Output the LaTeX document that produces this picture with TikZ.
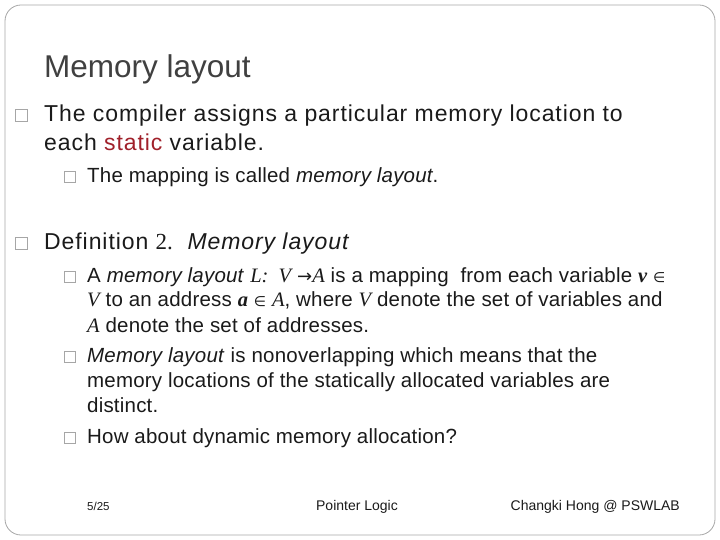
\documentclass[tikz,border=0pt]{standalone}
\usepackage{fontspec}
\setmainfont{Liberation Sans}
\newfontfamily\tms{Liberation Serif}
\newfontfamily\dv{DejaVu Sans}
\definecolor{txt}{HTML}{1A1A1A}
\definecolor{ttl}{HTML}{404040}
\definecolor{dred}{HTML}{A0202A}
\begin{document}
\begin{tikzpicture}[x=1pt,y=-1pt,
  t/.style={anchor=base west,inner sep=0pt,text=txt},
  big/.style={t,font=\fontsize{23}{26}\selectfont\addfontfeature{LetterSpace=4}},
  sm/.style={t,font=\fontsize{20.5}{24}\selectfont\addfontfeature{LetterSpace=1}},
  bxb/.style={draw=gray!70,line width=0.5pt,minimum size=12pt,inner sep=0pt,anchor=south west},
  bxs/.style={draw=gray!70,line width=0.5pt,minimum size=11pt,inner sep=0pt,anchor=south west},
  ft/.style={anchor=base,inner sep=0pt,text=txt,font=\fontsize{14}{16}\selectfont}]
\useasboundingbox (0,0) rectangle (720,540);
\draw[draw=gray!70,line width=0.8pt,rounded corners=16pt] (5,5) rectangle (715,535);
\node[t,text=ttl,font=\fontsize{31.5}{34}\selectfont] (title) at (44,78) {Memory layout};
\node[bxb] (b1) at (15,122) {};
\node[big] (l1) at (44,122) {The compiler assigns a particular memory location to};
\node[big] (l2) at (44,151) {each \textcolor{dred}{static} variable.};
\node[bxs] (s1) at (64,183) {};
\node[sm] (l3) at (87,183) {The mapping is called \textit{memory layout}.};
\node[bxb] (b2) at (15,249) {};
\node[big] (l4) at (44,249) {Definition {\tms 2.}\ \ \textit{Memory layout}};
\node[bxs] (s2) at (64,282) {};
\node[sm] (l5) at (87,282) {A \textit{memory layout} {\tms\itshape L: \ V} {\dv\fontsize{18}{18}\selectfont →}{\tms\itshape A} is a mapping \ from each variable {\tms\bfseries\itshape v} {\dv\fontsize{14}{15}\selectfont ∈}};
\node[sm] (l6) at (87,306) {{\tms\itshape V} to an address {\tms\bfseries\itshape a} {\dv\fontsize{14}{15}\selectfont ∈} {\tms\itshape A}, where {\tms\itshape V} denote the set of variables and};
\node[sm] (l7) at (87,332) {{\tms\itshape A} denote the set of addresses.};
\node[bxs] (s3) at (64,362) {};
\node[sm] (l8) at (87,362) {\textit{Memory layout} is nonoverlapping which means that the};
\node[sm] (l9) at (87,387) {memory locations of the statically allocated variables are};
\node[sm] (l10) at (87,412) {distinct.};
\node[bxs] (s4) at (64,443) {};
\node[sm] (l11) at (87,443) {How about dynamic memory allocation?};
\node[ft,anchor=base west,font=\fontsize{11.5}{13}\selectfont] (f1) at (87,510) {5/25};
\node[ft] (f2) at (357,510) {Pointer Logic};
\node[ft,anchor=base east] (f3) at (680,510) {Changki Hong @ PSWLAB};
\end{tikzpicture}
\end{document}
